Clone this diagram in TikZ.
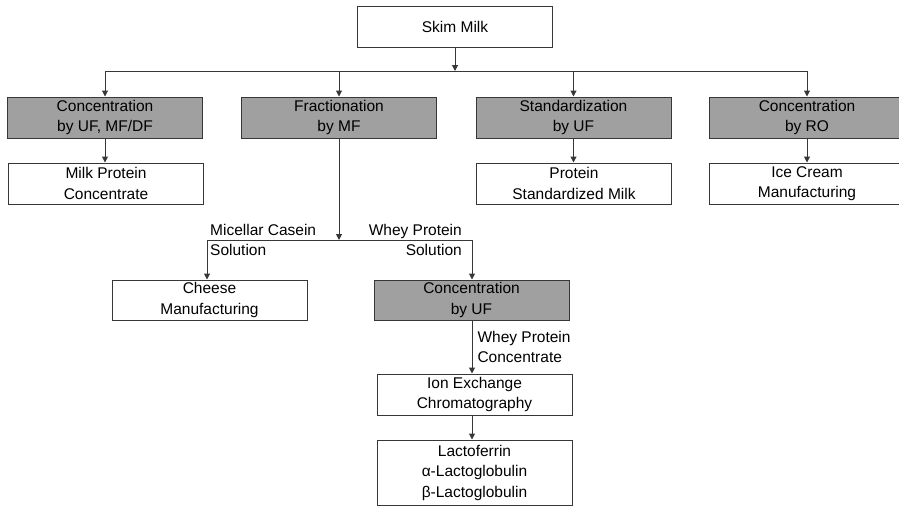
\documentclass[tikz,border=0pt]{standalone}
\usepackage{fontspec}
\setmainfont{Liberation Sans}
\usetikzlibrary{arrows.meta}
\definecolor{BoxGray}{RGB}{160,160,160}
\definecolor{LineGray}{RGB}{55,55,55}
\newcommand{\flowfont}{\fontsize{15.5}{20.5}\selectfont}
\tikzset{
  whitebox/.style={draw=LineGray,fill=white,line width=1pt,minimum width=195pt,
                   minimum height=41pt,inner sep=0pt,align=center,font=\flowfont},
  graybox/.style={whitebox,fill=BoxGray},
  flowline/.style={draw=LineGray,line width=1pt},
  flowarrow/.style={flowline,-{Triangle[length=6pt,width=6pt]}},
  flowlabel/.style={font=\flowfont,inner sep=3pt}
}

\begin{document}
\begin{tikzpicture}[x=1pt,y=-1pt]
    \useasboundingbox[fill=white] (0,0) rectangle (899,506);

    % top level
    \node[whitebox] (skim) at (455,26.5) {Skim Milk};

    % processes
    \node[graybox] (concmf) at (105,117.5) {Concentration\\by UF, MF/DF};
    \node[graybox] (fracmf) at (339,117.5) {Fractionation\\by MF};
    \node[graybox] (standuf) at (573.5,117.5) {Standardization\\by UF};
    \node[graybox] (concro) at (807,117.5) {Concentration\\by RO};

    % products
    \node[whitebox] (mpc) at (106,183.5) {Milk Protein\\Concentrate};
    \node[whitebox] (psm) at (574,183.5) {Protein\\Standardized Milk};
    \node[whitebox] (icecream) at (807,183.5) {Ice Cream\\Manufacturing};

    \node[whitebox,minimum height=40pt] (cheese) at (209.5,300) {Cheese\\Manufacturing};
    \node[graybox,minimum height=40pt] (concuf) at (471.5,300) {Concentration\\by UF};
    \node[whitebox] (ionex) at (474.5,394.5) {Ion Exchange\\Chromatography};
    \node[whitebox,minimum height=65pt] (proteins) at (474.5,472.5)
      {Lactoferrin\\α-Lactoglobulin\\β-Lactoglobulin};

    % skim milk split
    \coordinate (busL) at (105,71);
    \coordinate (busR) at (807,71);
    \draw[flowline] (busL) -- (busR);
    \draw[flowarrow] (skim.south) -- (skim.south |- busL);
    \draw[flowarrow] (busL) -- (concmf.north);
    \draw[flowarrow] (busL -| fracmf) -- (fracmf.north);
    \draw[flowarrow] (busL -| standuf) -- (standuf.north);
    \draw[flowarrow] (busR) -- (concro.north);

    \draw[flowarrow] (concmf.south) -- (concmf.south |- mpc.north);
    \draw[flowarrow] (standuf.south) -- (standuf.south |- psm.north);
    \draw[flowarrow] (concro.south) -- (concro.south |- icecream.north);

    % fractionation split
    \coordinate (fracL) at (207,240);
    \coordinate (fracR) at (472,240);
    \draw[flowline] (fracL) -- (fracR);
    \draw[flowarrow] (fracmf.south) -- (fracmf.south |- fracL);
    \draw[flowarrow] (fracL) -- (fracL |- cheese.north);
    \draw[flowarrow] (fracR) -- (fracR |- concuf.north);
    \node[flowlabel,anchor=west,align=left] (mcslabel) at (fracL) {Micellar Casein\\Solution};
    \node[flowlabel,anchor=east,align=right] (wpslabel) at ([xshift=-7pt]fracR) {Whey Protein\\Solution};

    \draw[flowarrow] (fracR |- concuf.south) -- (fracR |- ionex.north)
      node[midway,flowlabel,anchor=west,align=left,xshift=2pt] (wpclabel) {Whey Protein\\Concentrate};
    \draw[flowarrow] (fracR |- ionex.south) -- (fracR |- proteins.north);
  \end{tikzpicture}
\end{document}
